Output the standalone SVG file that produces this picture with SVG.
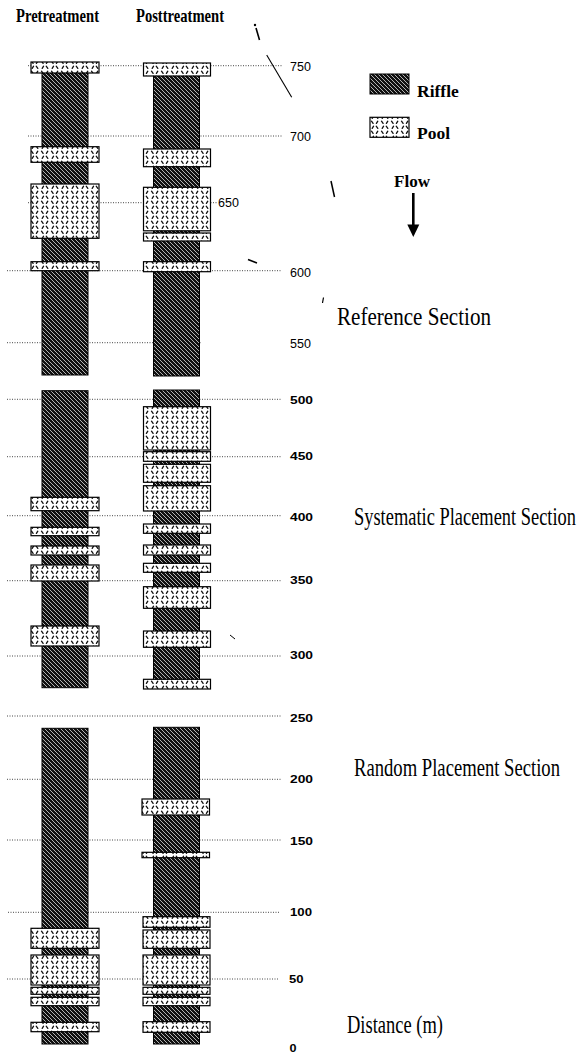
<svg xmlns="http://www.w3.org/2000/svg" width="579" height="1054" viewBox="0 0 579 1054">
<defs>
<pattern id="rif" width="4" height="4" patternUnits="userSpaceOnUse">
<rect width="4" height="4" fill="#111"/>
<path d="M0,0 L4,4 M-1,3 L1,5 M3,-1 L5,1" stroke="#ddd" stroke-width="0.8"/>
</pattern>
<pattern id="pool" width="10" height="10" patternUnits="userSpaceOnUse">
<rect width="10" height="10" fill="#fff"/>
<path d="M1.5,1.2 l1.6,2.2 M7.8,1.2 l-1.4,2.2 M3.6,6.2 l-1.4,2.2 M6.2,6.2 l1.6,2.2" stroke="#111" stroke-width="1.3" stroke-linecap="round"/>
</pattern>
</defs>
<style>
.r{fill:url(#rif);stroke:#000;stroke-width:1}
.p{fill:url(#pool);stroke:#000;stroke-width:1.2}
.g{stroke:#333;stroke-width:0.9;stroke-dasharray:1 1.5;fill:none}
.n{font-family:"Liberation Sans",Arial,sans-serif;font-size:12.5px;fill:#000}
.m{font-family:"Liberation Sans",Arial,sans-serif;font-size:10px;font-weight:bold;fill:#000}
.s{font-family:"Liberation Serif","Times New Roman",serif;font-size:18.5px;fill:#000}
.h{font-family:"Liberation Serif","Times New Roman",serif;font-size:19px;font-weight:bold;fill:#000}
.l{font-family:"Liberation Serif","Times New Roman",serif;font-size:17.5px;font-weight:bold;fill:#000}
.a{stroke:#000;fill:none}
</style>
<rect width="579" height="1054" fill="#fff"/>

<g id="gridlines">
<path class="g" d="M28,65.7H282 M28,136H282 M28,202.7H217 M7,270.7H282 M7,342.7H202 M7,399.3H282 M7,456.7H282 M7,515.7H282 M7,580.7H281 M7,656H281 M7,716H281 M7,779.3H281 M7,840H281 M8,912.3H279 M7,979H279"/>
</g>

<g id="titles">
<text class="h" x="16" y="21.5" textLength="83" lengthAdjust="spacingAndGlyphs">Pretreatment</text>
<text class="h" x="136" y="21.5" textLength="88" lengthAdjust="spacingAndGlyphs">Posttreatment</text>
</g>

<g id="pre-reference">
<rect class="r" x="42" y="67" width="46" height="308"/>
<rect class="p" x="31" y="62" width="68" height="11"/>
<rect class="p" x="31" y="146.7" width="68" height="15.6"/>
<rect class="p" x="31" y="184" width="68" height="54.3"/>
<rect class="p" x="31" y="261.7" width="68" height="9"/>
</g>
<g id="post-reference">
<rect class="r" x="153.5" y="70" width="46" height="306"/>
<rect class="p" x="143.5" y="63" width="67" height="13"/>
<rect class="p" x="143.5" y="149" width="67" height="17.7"/>
<rect class="p" x="143.5" y="187.3" width="67" height="43.5"/>
<rect class="p" x="143.5" y="233" width="67" height="8"/>
<rect class="p" x="143.5" y="261.7" width="67" height="10"/>
</g>

<g id="pre-systematic">
<rect class="r" x="42" y="390.7" width="46" height="297"/>
<rect class="p" x="31" y="497.3" width="68" height="13.4"/>
<rect class="p" x="31" y="527.3" width="68" height="8.4"/>
<rect class="p" x="31" y="546" width="68" height="9"/>
<rect class="p" x="31" y="565" width="68" height="16"/>
<rect class="p" x="31" y="626" width="68" height="20"/>
</g>
<g id="post-systematic">
<rect class="r" x="153.5" y="390" width="46" height="290"/>
<rect class="p" x="143.5" y="406.7" width="67" height="43.3"/>
<rect class="p" x="143.5" y="451.7" width="67" height="9.6"/>
<rect class="p" x="143.5" y="464.3" width="67" height="18"/>
<rect class="p" x="143.5" y="485.7" width="67" height="25.3"/>
<rect class="p" x="143.5" y="524" width="67" height="9.3"/>
<rect class="p" x="143.5" y="545" width="67" height="10"/>
<rect class="p" x="143.5" y="563.3" width="67" height="9"/>
<rect class="p" x="143.5" y="586.7" width="67" height="21.6"/>
<rect class="p" x="143.5" y="631" width="67" height="16.3"/>
<rect class="p" x="143.5" y="679.3" width="67" height="9.7"/>
</g>

<g id="pre-random">
<rect class="r" x="42" y="728.3" width="46" height="315.7"/>
<rect class="p" x="31" y="928.3" width="68" height="20"/>
<rect class="p" x="31" y="955" width="68" height="30"/>
<rect class="p" x="31" y="987.3" width="68" height="7"/>
<rect class="p" x="31" y="997.3" width="68" height="8.4"/>
<rect class="p" x="31" y="1022.3" width="68" height="9.4"/>
</g>
<g id="post-random">
<rect class="r" x="153.5" y="727.3" width="46" height="316.7"/>
<rect class="p" x="142" y="799" width="67.5" height="16"/>
<rect class="p" x="142" y="852.3" width="67.5" height="5.4"/>
<rect class="p" x="143" y="916.7" width="67" height="10.6"/>
<rect class="p" x="143" y="930" width="67" height="18.3"/>
<rect class="p" x="143" y="955" width="67" height="30"/>
<rect class="p" x="143" y="987.3" width="67" height="7"/>
<rect class="p" x="143" y="997.3" width="67" height="8.4"/>
<rect class="p" x="143" y="1021.7" width="67" height="10.6"/>
</g>

<g id="distance-labels">
<text class="n" x="290" y="71">750</text>
<text class="n" x="290" y="141">700</text>
<text class="n" x="218" y="207">650</text>
<text class="n" x="290" y="277">600</text>
<text class="n" x="290" y="348">550</text>
<text class="m" x="290" y="404.3" textLength="23" lengthAdjust="spacingAndGlyphs">500</text>
<text class="m" x="290" y="460" textLength="23" lengthAdjust="spacingAndGlyphs">450</text>
<text class="m" x="290" y="520.7" textLength="23" lengthAdjust="spacingAndGlyphs">400</text>
<text class="m" x="290" y="584" textLength="23" lengthAdjust="spacingAndGlyphs">350</text>
<text class="m" x="290" y="659.3" textLength="23" lengthAdjust="spacingAndGlyphs">300</text>
<text class="m" x="290" y="721.5" textLength="23" lengthAdjust="spacingAndGlyphs">250</text>
<text class="m" x="290" y="783.3" textLength="23" lengthAdjust="spacingAndGlyphs">200</text>
<text class="m" x="290" y="845" textLength="23" lengthAdjust="spacingAndGlyphs">150</text>
<text class="m" x="290" y="916" textLength="22" lengthAdjust="spacingAndGlyphs">100</text>
<text class="m" x="289" y="982.7" textLength="14.5" lengthAdjust="spacingAndGlyphs">50</text>
<text class="m" x="289.5" y="1051.7" textLength="7" lengthAdjust="spacingAndGlyphs">0</text>
</g>

<g id="section-labels">
<text class="s" transform="translate(337,325) scale(1,1.35)" textLength="154" lengthAdjust="spacingAndGlyphs">Reference  Section</text>
<text class="s" transform="translate(354,525) scale(1,1.35)" textLength="222" lengthAdjust="spacingAndGlyphs">Systematic  Placement  Section</text>
<text class="s" transform="translate(354,775.7) scale(1,1.35)" textLength="206" lengthAdjust="spacingAndGlyphs">Random  Placement  Section</text>
<text class="s" transform="translate(347,1033) scale(1,1.35)" textLength="96" lengthAdjust="spacingAndGlyphs">Distance  (m)</text>
</g>

<g id="legend">
<rect class="r" x="370" y="74" width="39" height="20"/>
<text class="l" x="417" y="96.7">Riffle</text>
<rect class="p" x="370" y="117.3" width="39" height="20"/>
<text class="l" x="417" y="139.3">Pool</text>
<text class="l" x="394" y="186.7" textLength="36" lengthAdjust="spacingAndGlyphs">Flow</text>
<path d="M413.3,193 V226" stroke="#000" stroke-width="2.6"/>
<path d="M407.3,224.5 L419.3,224.5 L413.3,237 Z" fill="#000"/>
</g>

<g id="scan-marks">
<path class="a" d="M266.7,55 L291.7,97.3" stroke-width="1.1"/>
<path class="a" d="M256,28 L259.5,40" stroke-width="1.6"/>
<circle cx="255" cy="25" r="1.2" fill="#000"/>
<path class="a" d="M331,181 L334.5,197" stroke-width="1.5"/>
<path class="a" d="M248,259.5 L257,263" stroke-width="1.5"/>
<path class="a" d="M323.5,297.5 L322.5,303" stroke-width="1.2"/>
<path class="a" d="M230,635 L235,639" stroke-width="1"/>
</g>
</svg>
